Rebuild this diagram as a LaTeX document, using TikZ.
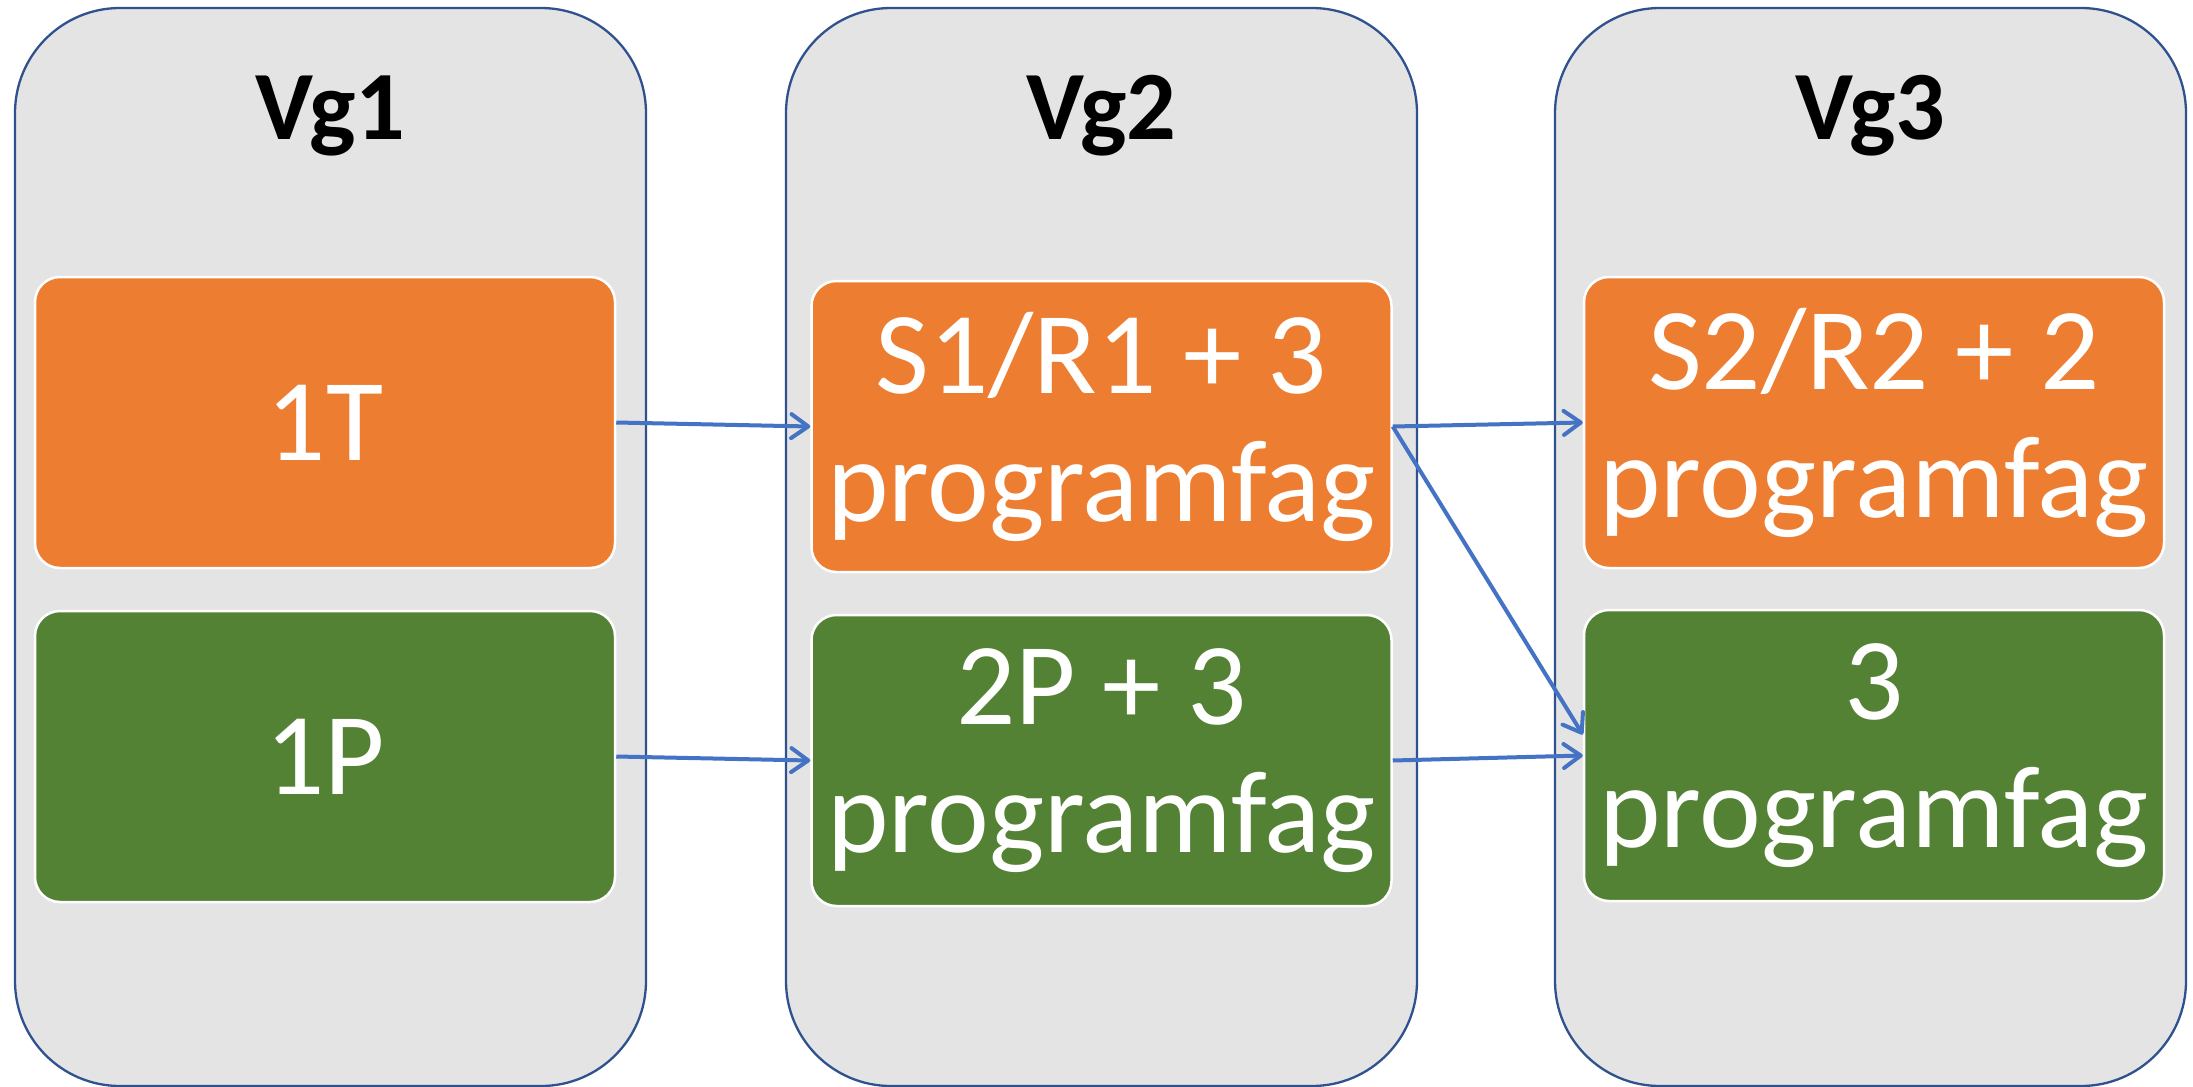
\documentclass[tikz,border=0pt]{standalone}
\usepackage{fontspec}
\setmainfont{Carlito}
\usetikzlibrary{arrows.meta}
\definecolor{colfill}{HTML}{E4E4E4}
\definecolor{colline}{HTML}{2F528F}
\definecolor{orangebox}{HTML}{ED7D31}
\definecolor{greenbox}{HTML}{548235}
\definecolor{arrowblue}{HTML}{4472C4}
\begin{document}
\begin{tikzpicture}[x=1pt,y=-1pt,
  column/.style={draw=colline, line width=2.3pt, fill=colfill, rounded corners=105pt,
    minimum width=631pt, minimum height=1078pt, inner sep=0pt},
  title/.style={font=\fontsize{98}{100}\selectfont\bfseries, anchor=base, inner sep=0pt},
  card/.style={draw=white, line width=2.5pt, rounded corners=25pt, minimum width=580pt,
    minimum height=291pt, inner sep=0pt, text=white, align=center,
    font=\fontsize{117}{128}\selectfont},
  ocard/.style={card, fill=orangebox},
  gcard/.style={card, fill=greenbox},
  link/.style={draw=arrowblue, line width=4pt, -{Straight Barb[length=17pt,width=24pt,line width=4pt,round]}}
]
\useasboundingbox (0,0) rectangle (2193,1087);
\fill[white] (0,0) rectangle (2193,1087);
% columns
\node[column] (c1) at (330.5,547) {};
\node[column] (c2) at (1101.5,547) {};
\node[column] (c3) at (1870.5,547) {};
% titles
\node[title] (t1) at (330.5,139) {Vg1};
\node[title] (t2) at (1101.5,139) {Vg2};
\node[title] (t3) at (1870.5,139) {Vg3};
% cards
\node[ocard] (o1) at (325,422.5) {1T};
\node[gcard] (g1) at (325,756.5) {1P};
\node[ocard] (o2) at (1101.5,426.5) {S1/R1 + 3\\programfag};
\node[gcard] (g2) at (1101.5,760.5) {2P + 3\\programfag};
\node[ocard] (o3) at (1874,422.5) {S2/R2 + 2\\programfag};
\node[gcard] (g3) at (1874,755.5) {3\\programfag};
% arrows
\draw[link] (o1.east) -- (o2.west);
\draw[link] (g1.east) -- (g2.west);
\draw[link] (o2.east) -- (o3.west);
\draw[link] (g2.east) -- (g3.west);
\draw[link] (o2.east) -- ([yshift=21pt]g3.west);
\end{tikzpicture}
\end{document}
